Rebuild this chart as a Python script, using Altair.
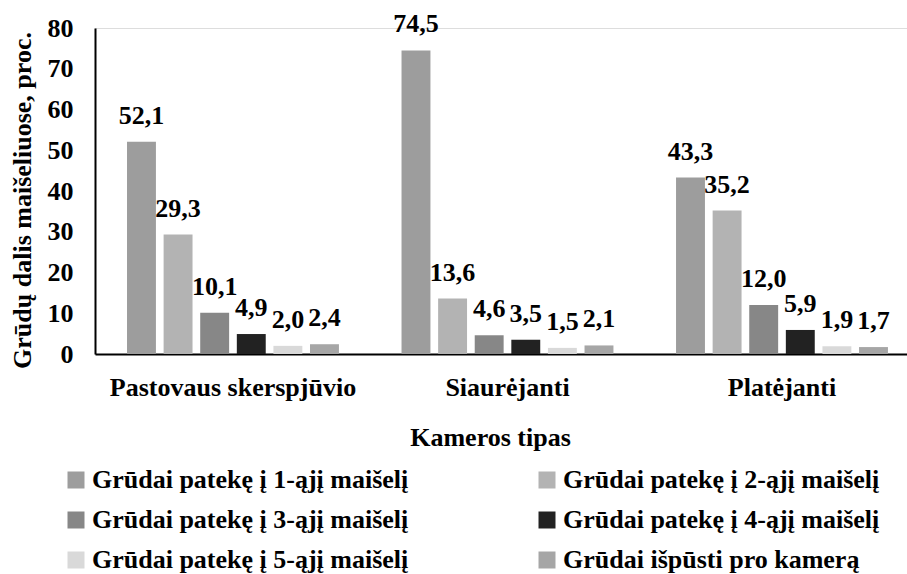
import altair as alt
import pandas as pd

categories = ["Pastovaus skerspjūvio", "Siaurėjanti", "Platėjanti"]
series = [
    "Grūdai patekę į 1-ąjį maišelį",
    "Grūdai patekę į 2-ąjį maišelį",
    "Grūdai patekę į 3-ąjį maišelį",
    "Grūdai patekę į 4-ąjį maišelį",
    "Grūdai patekę į 5-ąjį maišelį",
    "Grūdai išpūsti pro kamerą",
]
values = [
    [52.1, 29.3, 10.1, 4.9, 2.0, 2.4],
    [74.5, 13.6, 4.6, 3.5, 1.5, 2.1],
    [43.3, 35.2, 12.0, 5.9, 1.9, 1.7],
]
colors = ["#9d9d9d", "#b3b3b3", "#878787", "#222222", "#d9d9d9", "#a6a6a6"]

# legend fills column by column: put series in the order that gives
# rows (1,2), (3,4), (5,6) in a two-column legend
legend_order = [0, 2, 4, 1, 3, 5]
legend_domain = [series[i] for i in legend_order]
legend_colors = [colors[i] for i in legend_order]

rows = []
for ci, cat in enumerate(categories):
    for si, s in enumerate(series):
        v = values[ci][si]
        rows.append({"cat": cat, "series": s, "value": v,
                     "label": f"{v:.1f}".replace(".", ",")})
df = pd.DataFrame(rows)

FONT = "Times New Roman, Liberation Serif, serif"
FS = 26

base = alt.Chart(df).encode(
    x=alt.X("cat:N", sort=categories,
            scale=alt.Scale(paddingInner=0.228, paddingOuter=0.093, align=0.627),
            axis=alt.Axis(title="Kameros tipas", labelAngle=0, ticks=False, tickSize=0,
                          labelBaseline="alphabetic", labelPadding=41, labelLimit=0,
                          titleBaseline="alphabetic", titleX=395, titleY=91,
                          labelFontSize=FS, titleFontSize=FS,
                          labelFont=FONT, titleFont=FONT,
                          labelFontWeight="bold", titleFontWeight="bold",
                          labelColor="black", titleColor="black",
                          domainColor="black", domainWidth=2)),
    xOffset=alt.XOffset("series:N", sort=series,
                        scale=alt.Scale(paddingInner=0.21, paddingOuter=0)),
)

bars = base.mark_bar().encode(
    y=alt.Y("value:Q", scale=alt.Scale(domain=[0, 80]),
            axis=alt.Axis(title="Grūdų dalis maišeliuose, proc.",
                          values=list(range(0, 81, 10)), grid=False,
                          ticks=False, tickSize=0, labelPadding=22, titlePadding=12,
                          titleY=172,
                          labelFontSize=FS, titleFontSize=FS,
                          labelFont=FONT, titleFont=FONT,
                          labelFontWeight="bold", titleFontWeight="bold",
                          labelColor="black", titleColor="black",
                          domainColor="black", domainWidth=2)),
    color=alt.Color("series:N",
                    scale=alt.Scale(domain=legend_domain, range=legend_colors),
                    legend=alt.Legend(title=None, orient="none", legendX=-32, legendY=439,
                                      columns=2, columnPadding=125, rowPadding=14,
                                      symbolType="square", symbolSize=289,
                                      symbolStrokeWidth=0, labelOffset=3,
                                      labelFont=FONT, labelFontSize=FS,
                                      labelFontWeight="bold", labelColor="black",
                                      labelLimit=0, padding=0)),
)

labels = base.mark_text(baseline="alphabetic", dy=-18, font=FONT, fontSize=FS,
                        fontWeight="bold", color="black").encode(
    y=alt.Y("value:Q"),
    text="label:N",
)

chart = (bars + labels).properties(
    width=812, height=326,
    autosize=alt.AutoSizeParams(type="none"),
    padding={"left": 95, "top": 28, "right": 0, "bottom": 220},
).configure_view(stroke=None).configure(background="white")

chart.save("out.html", embed_options={"renderer": "svg", "actions": False})
